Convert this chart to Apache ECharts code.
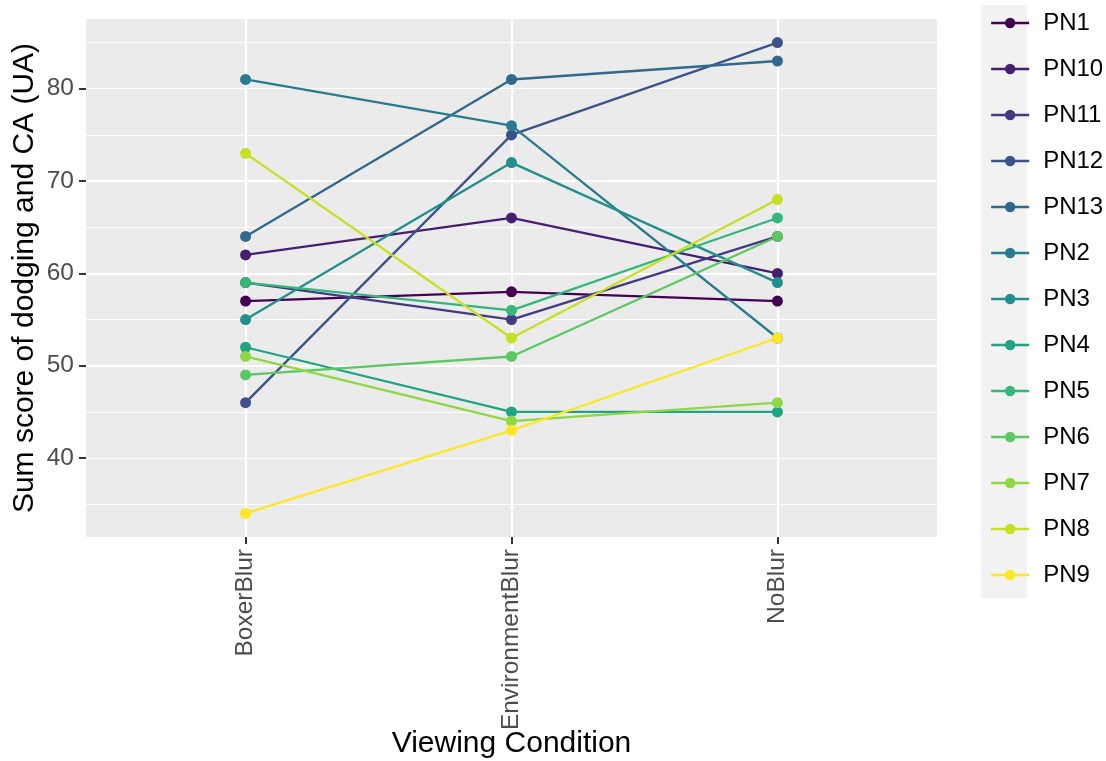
<!DOCTYPE html>
<html>
<head>
<meta charset="utf-8">
<script src="https://cdn.jsdelivr.net/npm/echarts@6/dist/echarts.min.js"></script>
<style>
html,body{margin:0;padding:0;background:#fff;}
#chart{width:1106px;height:761px;}
</style>
</head>
<body>
<div id="chart"></div>
<script>
// ---- data ----
const categories = ['BoxerBlur', 'EnvironmentBlur', 'NoBlur'];
const participants = ['PN1','PN10','PN11','PN12','PN13','PN2','PN3','PN4','PN5','PN6','PN7','PN8','PN9'];
const PN1  = [57, 58, 57];
const PN10 = [62, 66, 60];
const PN11 = [59, 55, 64];
const PN12 = [46, 75, 85];
const PN13 = [64, 81, 83];
const PN2  = [81, 76, 53];
const PN3  = [55, 72, 59];
const PN4  = [52, 45, 45];
const PN5  = [59, 56, 66];
const PN6  = [49, 51, 64];
const PN7  = [51, 44, 46];
const PN8  = [73, 53, 68];
const PN9  = [34, 43, 53];
const yTicks = [40, 50, 60, 70, 80];
const colors = ['#440154','#481F70','#443A83','#3B528B','#31688E','#287C8E','#21908C','#20A486','#35B779','#5DC863','#8FD744','#C7E020','#FDE725'];
const valuesByName = {PN1, PN10, PN11, PN12, PN13, PN2, PN3, PN4, PN5, PN6, PN7, PN8, PN9};

// ---- chart ----
const FONT = '"Liberation Sans", Arial, sans-serif';
const yMin = 31.45, yMax = 87.55;
const chart = echarts.init(document.getElementById('chart'), null, {renderer: 'canvas'});

const series = participants.map((name, k) => ({
  name: name,
  type: 'line',
  xAxisIndex: 0,
  yAxisIndex: 1,
  symbol: 'circle',
  symbolSize: 11,
  showSymbol: true,
  color: colors[k],
  lineStyle: {width: 2.3, color: colors[k]},
  itemStyle: {color: colors[k]},
  emphasis: {disabled: true},
  data: categories.map((c, i) => [i, valuesByName[name][i]])
}));

const option = {
  animation: false,
  backgroundColor: '#ffffff',
  textStyle: {fontFamily: FONT},
  graphic: [{
    type: 'rect', z: -10, silent: true,
    shape: {x: 981, y: 5, width: 46, height: 593},
    style: {fill: '#F2F2F2'}
  }],
  grid: {
    left: 86, top: 19, width: 851, height: 518,
    containLabel: false,
    outerBoundsMode: 'none',
    show: true, backgroundColor: '#EBEBEB', borderWidth: 0
  },
  legend: {
    orient: 'vertical',
    left: 985, top: 6,
    itemWidth: 38, itemHeight: 13,
    itemGap: 22,
    data: participants,
    lineStyle: {width: 2.3},
    textStyle: {fontFamily: FONT, fontSize: 24, color: '#000', padding: [0, 0, 0, 9], lineHeight: 24},
    selectedMode: false
  },
  xAxis: [{
    type: 'value',
    min: -0.6, max: 2.6,
    minInterval: 1, maxInterval: 1,
    name: 'Viewing Condition',
    nameLocation: 'middle',
    nameGap: 192,
    nameMoveOverlap: false,
    nameTextStyle: {fontFamily: FONT, fontSize: 30, color: '#000'},
    axisLine: {show: false},
    axisTick: {show: true, length: 7, lineStyle: {color: '#333333', width: 2}, customValues: [0, 1, 2]},
    axisLabel: {
      show: true, rotate: 90, margin: 12,
      fontFamily: FONT, fontSize: 24.5, color: '#4D4D4D',
      customValues: [0, 1, 2],
      formatter: v => (Math.abs(v - Math.round(v)) < 1e-6 && categories[Math.round(v)]) ? categories[Math.round(v)] : ''
    },
    splitLine: {show: true, lineStyle: {color: '#ffffff', width: 2.2}}
  }],
  yAxis: [{
    type: 'value', min: yMin, max: yMax,
    minInterval: 5, maxInterval: 5,
    position: 'right',
    axisLine: {show: false}, axisTick: {show: false}, axisLabel: {show: false},
    splitLine: {show: true, showMinLine: false, showMaxLine: false, lineStyle: {color: '#ffffff', width: 1.1}}
  }, {
    type: 'value', min: yMin, max: yMax,
    minInterval: 10, maxInterval: 10,
    position: 'left',
    name: 'Sum score of dodging and CA (UA)',
    nameLocation: 'middle',
    nameGap: 46,
    nameMoveOverlap: false,
    nameTextStyle: {fontFamily: FONT, fontSize: 30, color: '#000'},
    axisLine: {show: false},
    axisTick: {show: true, length: 7, lineStyle: {color: '#333333', width: 2}, customValues: yTicks},
    axisLabel: {
      show: true, margin: 12, fontFamily: FONT, fontSize: 24.5, color: '#4D4D4D',
      customValues: yTicks,
      formatter: v => (yTicks.indexOf(Math.round(v)) >= 0 && Math.abs(v - Math.round(v)) < 1e-6) ? String(Math.round(v)) : ''
    },
    splitLine: {show: true, showMinLine: false, showMaxLine: false, lineStyle: {color: '#ffffff', width: 2.2}}
  }],
  series: series
};
chart.setOption(option);
</script>
</body>
</html>
